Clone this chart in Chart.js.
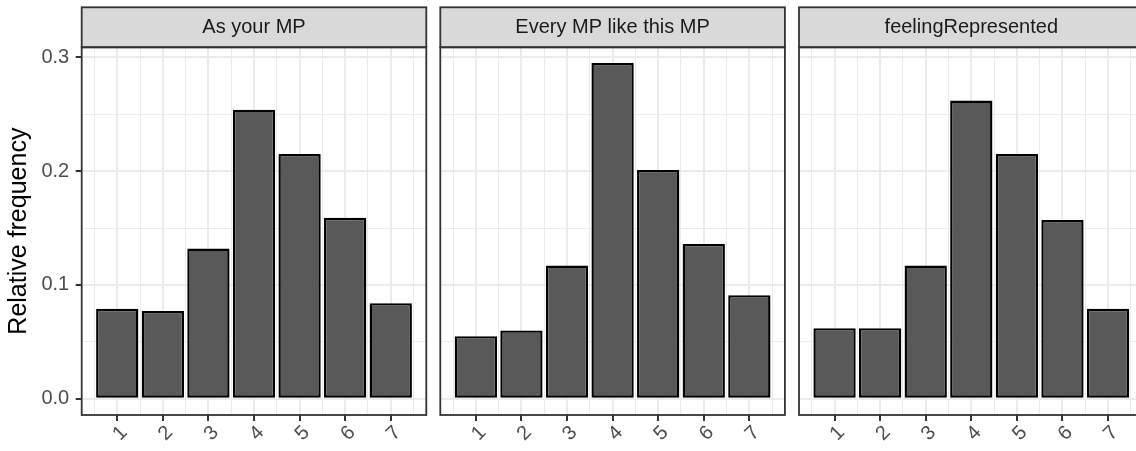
<!DOCTYPE html>
<html>
<head>
<meta charset="utf-8">
<script src="https://cdn.jsdelivr.net/npm/chart.js@4.4.0/dist/chart.umd.min.js"></script>
<style>
	html, body { margin: 0; padding: 0; background: #fff; overflow: hidden; }
	body { width: 1136px; height: 451px; position: relative; }
	canvas { position: absolute; top: 0; }
</style>
</head>
<body>
<canvas id="panel-0" width="430" height="451" style="left:0px"></canvas>
<canvas id="panel-1" width="352" height="451" style="left:436px"></canvas>
<canvas id="panel-2" width="352" height="451" style="left:795px"></canvas>
<script>
const categories = [1, 2, 3, 4, 5, 6, 7];
const panelTitles = ['As your MP', 'Every MP like this MP', 'feelingRepresented'];

const asYourMP = [0.079, 0.077, 0.132, 0.254, 0.215, 0.159, 0.084];
const everyMPLikeThisMP = [0.055, 0.060, 0.117, 0.295, 0.201, 0.136, 0.091];
const feelingRepresented = [0.062, 0.062, 0.117, 0.262, 0.215, 0.157, 0.079];

const xGridValues = [0.5, 1, 1.5, 2, 2.5, 3, 3.5, 4, 4.5, 5, 5.5, 6, 6.5, 7, 7.5];
const yGridValues = [0, 0.05, 0.1, 0.15, 0.2, 0.25, 0.3];
const yTickValues = [0, 0.1, 0.2, 0.3];
const yTickLabels = ['0.0', '0.1', '0.2', '0.3'];
const yAxisTitle = 'Relative frequency';

document.addEventListener("DOMContentLoaded", function () {
	const family = '"Liberation Sans", Arial, Helvetica, sans-serif';
	Chart.defaults.font.family = family;

	const seriesList = [asYourMP, everyMPLikeThisMP, feelingRepresented];
	// canvas-relative panel placement (left edge of the panel and right padding)
	const panelLeft = [81.7, 4.3, 4];
	const panelRight = [3.7, 3.1, 3.4];

	const yLabelIndex = (v) => yTickValues.findIndex((t) => Math.abs(t - v) < 1e-6);
	const isMajorY = (c) => c.tick && yLabelIndex(c.tick.value) >= 0;
	const isMajorX = (c) => c.tick && Math.abs(c.tick.value - Math.round(c.tick.value)) < 1e-6;

	// grey strip on top + dark panel border, ggplot facet style
	const facetPlugin = {
		id: 'facet',
		afterDraw(chart, args, opts) {
			const ctx = chart.ctx;
			const a = chart.chartArea;
			const stripTop = 7.3;
			ctx.save();
			ctx.fillStyle = '#d9d9d9';
			ctx.fillRect(a.left, stripTop, a.right - a.left, a.top - stripTop);
			ctx.lineWidth = 1.8;
			ctx.strokeStyle = '#333333';
			ctx.strokeRect(a.left, stripTop, a.right - a.left, a.top - stripTop);
			ctx.strokeRect(a.left, a.top, a.right - a.left, a.bottom - a.top);
			ctx.fillStyle = '#1a1a1a';
			ctx.font = '20px ' + family;
			ctx.textAlign = 'center';
			ctx.textBaseline = 'middle';
			ctx.fillText(opts.text, (a.left + a.right) / 2, (stripTop + a.top) / 2 + 0.5);
			ctx.restore();
		}
	};

	seriesList.forEach((values, i) => {
		const first = i === 0;
		const ctx = document.getElementById('panel-' + i).getContext('2d');

		const data = {
			datasets: [{
				data: categories.map((c, k) => ({ x: c, y: values[k] })),
				backgroundColor: '#595959',
				borderColor: '#000000',
				borderWidth: 2.4,
				borderSkipped: false,
				// ruler spacing is the half-step grid, so 1.856 * 0.5 = 0.928 units wide
				barPercentage: 1.856,
				categoryPercentage: 1
			}]
		};

		const config = {
			type: 'bar',
			data: data,
			plugins: [facetPlugin],
			options: {
				responsive: false,
				animation: false,
				layout: { padding: { top: 47.3, left: first ? 0 : panelLeft[i], right: panelRight[i], bottom: 0 } },
				plugins: {
					legend: { display: false },
					tooltip: { enabled: false },
					facet: { text: panelTitles[i] }
				},
				scales: {
					x: {
						type: 'linear',
						min: 0.22,
						max: 7.78,
						offset: false,
						afterBuildTicks: (s) => { s.ticks = xGridValues.map((v) => ({ value: v })); },
						afterFit: (s) => { s.height = 36; s.paddingLeft = 0; s.paddingRight = 0; },
						border: { display: false },
						grid: {
							offset: false,
							color: '#ebebeb',
							lineWidth: (c) => isMajorX(c) ? 2 : 1,
							tickLength: 6,
							tickWidth: 2,
							tickColor: (c) => isMajorX(c) ? '#333333' : 'rgba(0,0,0,0)'
						},
						ticks: {
							color: '#4d4d4d',
							font: { size: 20 },
							padding: 0,
							labelOffset: 7,
							minRotation: 45,
							maxRotation: 45,
							autoSkip: false,
							callback: (v) => Math.abs(v - Math.round(v)) < 1e-6 ? String(Math.round(v)) : ''
						}
					},
					y: {
						type: 'linear',
						min: -0.0143,
						max: 0.3088,
						afterBuildTicks: (s) => { s.ticks = yGridValues.map((v) => ({ value: v })); },
						afterFit: (s) => { s.width = first ? 81.7 : 0; s.paddingTop = 0; s.paddingBottom = 0; },
						border: { display: false },
						grid: {
							color: '#ebebeb',
							lineWidth: (c) => isMajorY(c) ? 2 : 1,
							drawTicks: first,
							tickLength: 6,
							tickWidth: 2,
							tickColor: (c) => isMajorY(c) ? '#333333' : 'rgba(0,0,0,0)'
						},
						ticks: {
							display: first,
							color: '#4d4d4d',
							font: { size: 20 },
							padding: 6.5,
							autoSkip: false,
							callback: (v) => { const k = yLabelIndex(v); return k >= 0 ? yTickLabels[k] : ''; }
						},
						title: {
							display: first,
							text: yAxisTitle,
							color: '#000000',
							font: { size: 25 },
							padding: { top: 4, bottom: 0 }
						}
					}
				}
			}
		};

		new Chart(ctx, config);
	});
});
</script>
</body>
</html>
